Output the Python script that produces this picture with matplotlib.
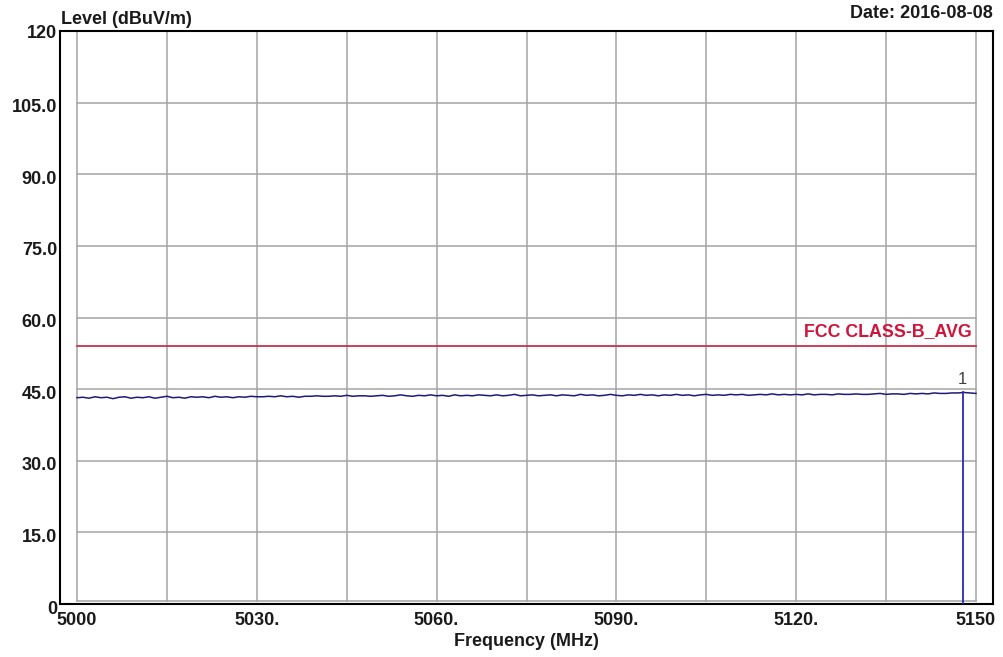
import matplotlib
matplotlib.use("Agg")
import matplotlib.pyplot as plt
from matplotlib.transforms import ScaledTranslation
import numpy as np

# Measured spectrum (1 MHz steps, 5000-5150 MHz), level in dBuV/m
freq_start = 5000
level = [
    43.2, 43.3, 43.1, 43.4, 43.2, 43.3, 43.0, 43.3, 43.4, 43.1,
    43.3, 43.2, 43.4, 43.1, 43.3, 43.5, 43.2, 43.3, 43.1, 43.4,
    43.3, 43.4, 43.2, 43.5, 43.3, 43.4, 43.2, 43.4, 43.3, 43.5,
    43.4, 43.4, 43.5, 43.4, 43.6, 43.4, 43.5, 43.3, 43.5, 43.5,
    43.6, 43.5, 43.5, 43.6, 43.5, 43.7, 43.5, 43.6, 43.6, 43.5,
    43.6, 43.7, 43.5, 43.6, 43.8, 43.6, 43.5, 43.7, 43.6, 43.8,
    43.6, 43.7, 43.5, 43.8, 43.6, 43.7, 43.6, 43.8, 43.7, 43.6,
    43.8, 43.6, 43.7, 43.9, 43.6, 43.7, 43.8, 43.6, 43.7, 43.8,
    43.6, 43.8, 43.7, 43.6, 43.9, 43.7, 43.8, 43.6, 43.7, 43.9,
    43.7, 43.6, 43.8, 43.7, 43.9, 43.7, 43.8, 43.6, 43.8, 43.7,
    43.9, 43.7, 43.8, 43.6, 43.8, 43.9, 43.7, 43.8, 43.7, 43.9,
    43.8, 43.9, 43.7, 43.8, 43.9, 43.8, 44.0, 43.8, 43.9, 43.8,
    43.9, 43.8, 44.0, 43.8, 43.9, 43.9, 43.8, 44.0, 43.9, 43.9,
    44.0, 43.9, 43.9, 44.0, 44.1, 43.9, 44.0, 44.0, 43.9, 44.1,
    44.0, 44.1, 44.0, 44.2, 44.1, 44.1, 44.2, 44.2, 44.3, 44.2,
    44.1,
]
freq = freq_start + np.arange(len(level))

# Limit line
limit_label = "FCC CLASS-B_AVG"
limit_level = 54.0

# Marker
marker_label = "1"
marker_freq = 5147.8
marker_level = 44.3

# Axis ticks
x_grid = [5000, 5015, 5030, 5045, 5060, 5075, 5090, 5105, 5120, 5135, 5150]
x_ticks = [5000, 5030, 5060, 5090, 5120, 5150]
x_tick_labels = ["5000", "5030.", "5060.", "5090.", "5120.", "5150"]
y_ticks = [0, 15, 30, 45, 60, 75, 90, 105, 120]
y_tick_labels = ["0", "15.0", "30.0", "45.0", "60.0", "75.0", "90.0", "105.0", "120"]

FONT = "Liberation Sans"
GRID_C = "#a4a4a4"
TEXT_C = "#1a1a1a"

fig = plt.figure(figsize=(10.04, 6.57), dpi=100)
ax = fig.add_axes([60 / 1004, 53 / 657, 933 / 1004, 573 / 657])

x_lo, x_hi = 5000, 5150
pad = 17 * (x_hi - x_lo) / 899
ax.set_xlim(x_lo - pad, x_hi + pad)
ax.set_ylim(0, 120)

# Grid drawn within the 5000-5150 plotting area
grid_bottom = 0.6
for y in y_ticks[1:-1]:
    ax.plot([x_lo, x_hi], [y, y], color=GRID_C, lw=1.1, zorder=1)
ax.plot([x_lo, x_hi], [grid_bottom, grid_bottom], color=GRID_C, lw=1.1, zorder=1)
for x in x_grid:
    ax.plot([x, x], [grid_bottom, 120], color=GRID_C, lw=1.1, zorder=1)

# Limit line and label
ax.plot([x_lo, x_hi], [limit_level, limit_level], color="#c8304a", lw=1.3, zorder=3)
ax.text(5149.3, limit_level + 1.3, limit_label, color="#d0143c", fontsize=12.8,
        fontweight="bold", family=FONT, ha="right", va="bottom", zorder=4)

# Trace
ax.plot(freq, level, color="#1c1c78", lw=1.1, zorder=3)

# Marker
ax.plot([marker_freq, marker_freq], [0, marker_level], color="#2a2ab0", lw=1.3, zorder=4)
ax.text(marker_freq, marker_level + 1.2, marker_label, color="#404040", fontsize=12,
        family=FONT, ha="center", va="bottom", zorder=4)

# Frame
for s in ax.spines.values():
    s.set_color("black")
    s.set_linewidth(1.5)

ax.set_xticks(x_ticks)
ax.set_xticklabels(x_tick_labels)
ax.set_yticks(y_ticks)
ax.set_yticklabels(y_tick_labels)
ax.tick_params(length=0)
ax.tick_params(axis="x", pad=6)
ax.tick_params(axis="y", pad=2)
for lab in ax.get_xticklabels() + ax.get_yticklabels():
    lab.set_fontfamily(FONT)
    lab.set_fontweight("bold")
    lab.set_fontsize(13)
    lab.set_color(TEXT_C)
# y labels (except the top one) sit a few pixels below their gridlines
shift = ScaledTranslation(0, -3 / 100, fig.dpi_scale_trans)
for lab in ax.get_yticklabels()[:-1]:
    lab.set_transform(lab.get_transform() + shift)

# Titles
fig.text(61 / 1004, 1 - 19 / 657, "Level (dBuV/m)", fontsize=13, fontweight="bold",
         family=FONT, ha="left", va="center", color=TEXT_C)
fig.text(993 / 1004, 1 - 14 / 657, "Date: 2016-08-08", fontsize=13, fontweight="bold",
         family=FONT, ha="right", va="center", color=TEXT_C)
fig.text(526 / 1004, 1 - 642 / 657, "Frequency (MHz)", fontsize=13, fontweight="bold",
         family=FONT, ha="center", va="center", color=TEXT_C)

fig.savefig("out.png", dpi=100, facecolor="white")
